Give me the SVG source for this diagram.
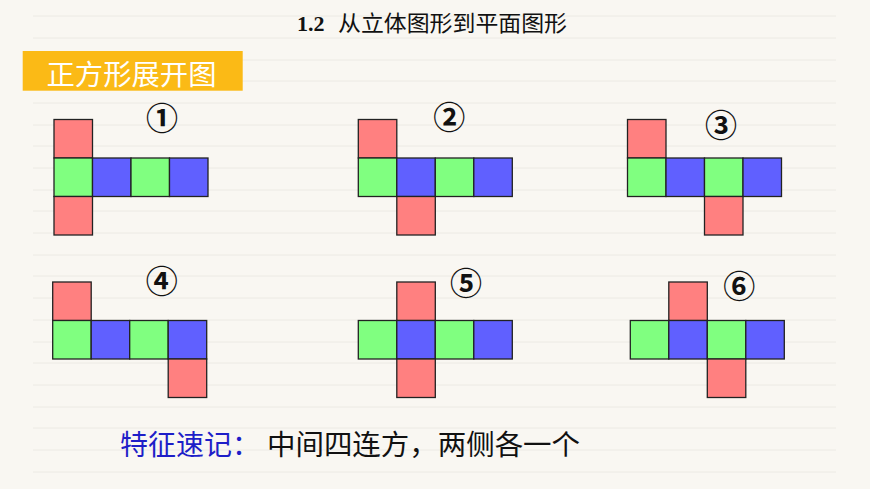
<svg xmlns="http://www.w3.org/2000/svg" width="870" height="489" viewBox="0 0 870 489">
<style>
.r{fill:#FF8080;stroke:#222;stroke-width:1.3}
.g{fill:#80FF80;stroke:#222;stroke-width:1.3}
.b{fill:#6060FF;stroke:#222;stroke-width:1.3}
.num{font-family:"Noto Sans CJK SC","DejaVu Sans",sans-serif;font-weight:bold;font-size:32px;fill:#111;text-anchor:middle}
.ln{stroke:#ECEAE4;stroke-width:1}
</style>
<rect width="870" height="489" fill="#F9F7F2"/>
<g id="bg-lines">
<line class="ln" x1="33" y1="16" x2="836" y2="16"/>
<line class="ln" x1="33" y1="38" x2="836" y2="38"/>
<line class="ln" x1="33" y1="60" x2="836" y2="60"/>
<line class="ln" x1="33" y1="81" x2="836" y2="81"/>
<line class="ln" x1="33" y1="103" x2="836" y2="103"/>
<line class="ln" x1="33" y1="125" x2="836" y2="125"/>
<line class="ln" x1="33" y1="146" x2="836" y2="146"/>
<line class="ln" x1="33" y1="168" x2="836" y2="168"/>
<line class="ln" x1="33" y1="190" x2="836" y2="190"/>
<line class="ln" x1="33" y1="211" x2="836" y2="211"/>
<line class="ln" x1="33" y1="233" x2="836" y2="233"/>
<line class="ln" x1="33" y1="255" x2="836" y2="255"/>
<line class="ln" x1="33" y1="276" x2="836" y2="276"/>
<line class="ln" x1="33" y1="298" x2="836" y2="298"/>
<line class="ln" x1="33" y1="320" x2="836" y2="320"/>
<line class="ln" x1="33" y1="342" x2="836" y2="342"/>
<line class="ln" x1="33" y1="363" x2="836" y2="363"/>
<line class="ln" x1="33" y1="385" x2="836" y2="385"/>
<line class="ln" x1="33" y1="407" x2="836" y2="407"/>
<line class="ln" x1="33" y1="428" x2="836" y2="428"/>
<line class="ln" x1="33" y1="450" x2="836" y2="450"/>
<line class="ln" x1="33" y1="472" x2="836" y2="472"/>
</g>
<g id="title">
<text x="297" y="31" font-family="Liberation Serif,serif" font-weight="bold" font-size="22" fill="#111">1.2</text>
<text x="338" y="31" font-family="Noto Sans CJK SC,sans-serif" font-size="22" fill="#111" textLength="229" lengthAdjust="spacingAndGlyphs">从立体图形到平面图形</text>
</g>
<g id="banner">
<rect x="22.7" y="51" width="220" height="39.7" fill="#FBBA16"/>
<text x="46.5" y="85" font-family="Noto Sans CJK SC,sans-serif" font-size="28" fill="#FFFFFF" textLength="170" lengthAdjust="spacingAndGlyphs">正方形展开图</text>
</g>
<g id="net1">
<rect class="r" x="54" y="119.5" width="38.5" height="38.5"/>
<rect class="g" x="54" y="158" width="38.5" height="38.5"/>
<rect class="b" x="92.5" y="158" width="38.5" height="38.5"/>
<rect class="g" x="131" y="158" width="38.5" height="38.5"/>
<rect class="b" x="169.5" y="158" width="38.5" height="38.5"/>
<rect class="r" x="54" y="196.5" width="38.5" height="38.5"/>
<text class="num" x="162" y="130">①</text>
</g>
<g id="net2">
<rect class="r" x="358.3" y="119.5" width="38.5" height="38.5"/>
<rect class="g" x="358.3" y="158" width="38.5" height="38.5"/>
<rect class="b" x="396.8" y="158" width="38.5" height="38.5"/>
<rect class="g" x="435.3" y="158" width="38.5" height="38.5"/>
<rect class="b" x="473.8" y="158" width="38.5" height="38.5"/>
<rect class="r" x="396.8" y="196.5" width="38.5" height="38.5"/>
<text class="num" x="449.3" y="129">②</text>
</g>
<g id="net3">
<rect class="r" x="627.5" y="119.5" width="38.5" height="38.5"/>
<rect class="g" x="627.5" y="158" width="38.5" height="38.5"/>
<rect class="b" x="666" y="158" width="38.5" height="38.5"/>
<rect class="g" x="704.5" y="158" width="38.5" height="38.5"/>
<rect class="b" x="743" y="158" width="38.5" height="38.5"/>
<rect class="r" x="704.5" y="196.5" width="38.5" height="38.5"/>
<text class="num" x="721" y="136.6">③</text>
</g>
<g id="net4">
<rect class="r" x="52.7" y="282" width="38.5" height="38.5"/>
<rect class="g" x="52.7" y="320.5" width="38.5" height="38.5"/>
<rect class="b" x="91.2" y="320.5" width="38.5" height="38.5"/>
<rect class="g" x="129.7" y="320.5" width="38.5" height="38.5"/>
<rect class="b" x="168.2" y="320.5" width="38.5" height="38.5"/>
<rect class="r" x="168.2" y="359" width="38.5" height="38.5"/>
<text class="num" x="161.7" y="293.3">④</text>
</g>
<g id="net5">
<rect class="r" x="396.8" y="282" width="38.5" height="38.5"/>
<rect class="g" x="358.3" y="320.5" width="38.5" height="38.5"/>
<rect class="b" x="396.8" y="320.5" width="38.5" height="38.5"/>
<rect class="g" x="435.3" y="320.5" width="38.5" height="38.5"/>
<rect class="b" x="473.8" y="320.5" width="38.5" height="38.5"/>
<rect class="r" x="396.8" y="359" width="38.5" height="38.5"/>
<text class="num" x="466" y="294.6">⑤</text>
</g>
<g id="net6">
<rect class="r" x="668.8" y="282" width="38.5" height="38.5"/>
<rect class="g" x="630.3" y="320.5" width="38.5" height="38.5"/>
<rect class="b" x="668.8" y="320.5" width="38.5" height="38.5"/>
<rect class="g" x="707.3" y="320.5" width="38.5" height="38.5"/>
<rect class="b" x="745.8" y="320.5" width="38.5" height="38.5"/>
<rect class="r" x="707.3" y="359" width="38.5" height="38.5"/>
<text class="num" x="739.3" y="298.3">⑥</text>
</g>
<g id="summary">
<text x="120" y="455" font-family="Noto Sans CJK SC,sans-serif" font-size="28" fill="#1E1EC8">特征速记：</text>
<text x="267" y="455" font-family="Noto Sans CJK SC,sans-serif" font-size="28" fill="#111" textLength="313" lengthAdjust="spacingAndGlyphs">中间四连方，两侧各一个</text>
</g>
</svg>
